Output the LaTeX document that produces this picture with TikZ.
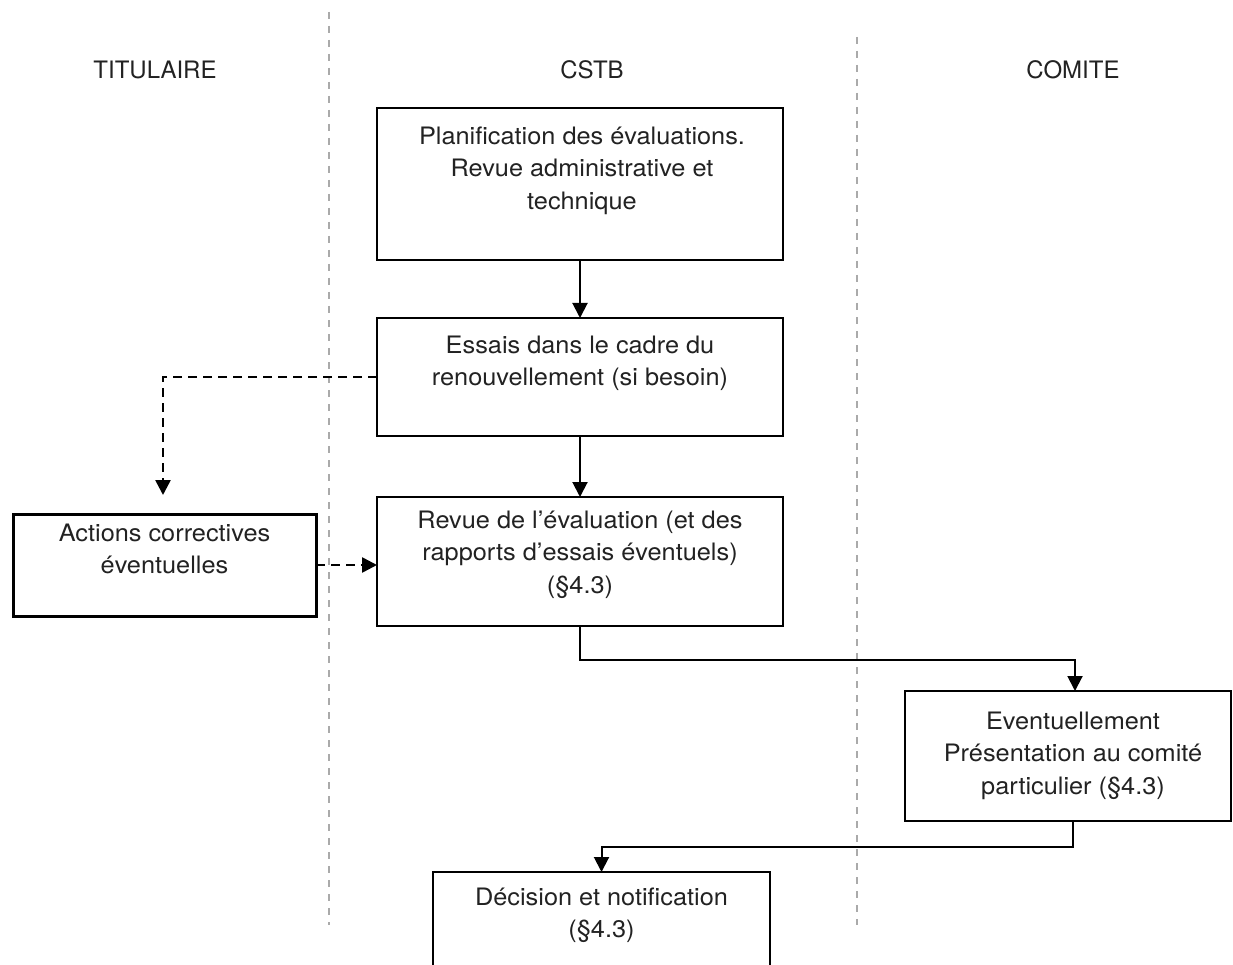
\documentclass[tikz,border=0pt]{standalone}
\usepackage{fontspec}
\setmainfont{TeX Gyre Heros}
\newfontfamily\bodyfont[FakeStretch=1.055]{TeX Gyre Heros}
\usetikzlibrary{arrows.meta}
\definecolor{lanegray}{HTML}{AAAAAA}
\definecolor{ink}{HTML}{222222}
\newcommand\firststrut{\rule{0pt}{23pt}}
\begin{document}
\begin{tikzpicture}[x=1pt,y=-1pt,
  box/.style={draw=black,line width=2pt,inner sep=0pt,outer sep=0pt},
  txt/.style={anchor=north,inner sep=0pt,align=center,text=ink,font=\bodyfont\fontsize{24}{32.5}\selectfont},
  hdr/.style={anchor=base,inner sep=0pt,text=ink,font=\fontsize{24}{28}\selectfont},
  lane/.style={draw=lanegray,line width=2pt,dash pattern=on 7pt off 7pt},
  arr/.style={draw=black,line width=2pt,-{Triangle[width=15pt,length=15pt]}},
  darr/.style={arr,line width=2.6pt,dash pattern=on 9pt off 6pt}]
\useasboundingbox (0,0) rectangle (1233,965);
\clip (0,0) rectangle (1233,965);
\fill[white] (0,0) rectangle (1233,965);

% swimlane separators
\coordinate (l1t) at (329,12);
\coordinate (l1b) at (329,925);
\coordinate (l2t) at (857,37);
\coordinate (l2b) at (857,925);
\draw[lane] (l1t) -- (l1b);
\draw[lane] (l2t) -- (l2b);

% headers
\node[hdr] (h1) at (155,79) {TITULAIRE};
\node[hdr] (h2) at (592,79) {CSTB};
\node[hdr] (h3) at (1073,79) {COMITE};

% boxes
\node[box,minimum width=406pt,minimum height=152pt] (b1) at (580,184) {};
\node[txt] (t1) at (582,121) {\firststrut Planification des évaluations.\\Revue administrative et\\technique};

\node[box,minimum width=406pt,minimum height=118pt] (b2) at (580,377) {};
\node[txt] (t2) at (580,330) {\firststrut Essais dans le cadre du\\renouvellement (si besoin)};

\node[box,minimum width=406pt,minimum height=129pt] (b3) at (580,561.5) {};
\node[txt] (t3) at (580,505) {\firststrut Revue de l’évaluation (et des\\rapports d’essais éventuels)\\(§4.3)};

\node[box,line width=3pt,minimum width=303pt,minimum height=102pt] (ac) at (164.5,565) {};
\node[txt] (t4) at (164.5,518) {\firststrut Actions correctives\\éventuelles};

\node[box,minimum width=326pt,minimum height=130pt] (ev) at (1068,756) {};
\node[txt] (t5) at (1073,706) {\firststrut Eventuellement\\Présentation au comité\\particulier (§4.3)};

\node[box,minimum width=337pt,minimum height=128pt] (dec) at (601.5,936) {};
\node[txt] (t6) at (601.5,882) {\firststrut Décision et notification\\(§4.3)};

% connectors
\draw[arr] (b1.south) -- (b2.north);
\draw[arr] (b2.south) -- (b3.north);

\coordinate (c1) at (163,495);
\draw[darr] (b2.west) -| (c1);
\draw[darr] (ac.east) -- (ac.east -| b3.west);

\coordinate (m1) at (0,660);
\draw[arr] (b3.south) -- (b3.south |- m1) -| ([xshift=7pt]ev.north);

\coordinate (m2) at (0,847);
\draw[arr] ([xshift=5pt]ev.south) -- ([xshift=5pt]ev.south |- m2) -| (dec.north);
\end{tikzpicture}
\end{document}
